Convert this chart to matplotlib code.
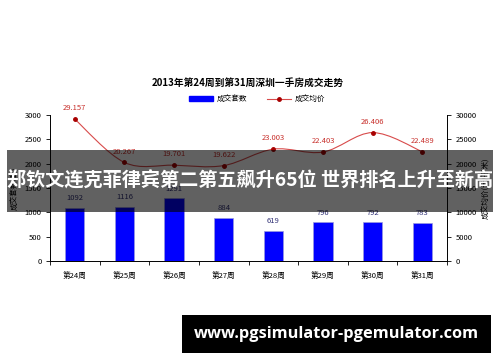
import numpy as np
import matplotlib
matplotlib.use("Agg")
import matplotlib.pyplot as plt
from matplotlib.path import Path
from matplotlib.patches import PathPatch, Rectangle, Patch
from matplotlib.lines import Line2D

plt.rcParams['font.family'] = ['Noto Sans CJK SC', 'DejaVu Sans']

# --- data ---
weeks = ["第24周", "第25周", "第26周", "第27周", "第28周", "第29周", "第30周", "第31周"]
units_sold = [1092, 1116, 1291, 884, 619, 796, 792, 783]
avg_price = [29157, 20267, 19701, 19622, 23003, 22403, 26406, 22489]

title = "2013年第24周到第31周深圳一手房成交走势"
banner = "郑钦文连克菲律宾第二第五飙升65位 世界排名上升至新高"
site = "www.pgsimulator-pgemulator.com"

BAR_BLUE = "#0000FF"
LINE_RED = "#D84B4B"
MARK_RED = "#A80000"

fig = plt.figure(figsize=(5, 3.62), dpi=100)
ax = fig.add_axes([0.1, 0.279, 0.794, 0.403])
ax2 = ax.twinx()

x = np.arange(len(weeks))

# bars (left axis)
ax.bar(x, units_sold, width=0.39, color=BAR_BLUE, edgecolor="#9999DD", linewidth=0.5, zorder=2)
for xi, v in zip(x, units_sold):
    ax.annotate(str(v), (xi, v), xytext=(0, 4), textcoords="offset points",
                ha="center", va="bottom", fontsize=5.5, color="#333377")

ax.set_xlim(-0.5, len(weeks) - 0.5)
ax.set_ylim(0, 3000)
ax.set_yticks(range(0, 3001, 500))
ax.set_xticks(x)
ax.set_xticklabels(weeks, fontsize=5.5)
ax.set_xticks(np.arange(-0.5, len(weeks), 1), minor=True)
ax.tick_params(axis="x", which="major", length=0, pad=8)
ax.tick_params(axis="x", which="minor", length=3, width=0.6, direction="out")
ax.tick_params(axis="y", labelsize=5.5, length=3, width=0.6, direction="out", pad=3)
ax.set_ylabel("成交套数(套)", fontsize=5.5, labelpad=4)

# smoothed price line (right axis), Catmull-Rom -> cubic Bezier through the points
pts = np.column_stack([x, avg_price]).astype(float)
ext = np.vstack([pts[0], pts, pts[-1]])
verts = [tuple(pts[0])]
codes = [Path.MOVETO]
for i in range(1, len(ext) - 2):
    p0, p1, p2, p3 = ext[i - 1], ext[i], ext[i + 1], ext[i + 2]
    verts += [tuple(p1 + (p2 - p0) / 6), tuple(p2 - (p3 - p1) / 6), tuple(p2)]
    codes += [Path.CURVE4] * 3
ax2.add_patch(PathPatch(Path(verts, codes), facecolor="none", edgecolor=LINE_RED, linewidth=0.8, zorder=3))
ax2.plot(x, avg_price, linestyle="none", marker="o", markersize=2.5, color=MARK_RED, zorder=4)
for xi, v in zip(x, avg_price):
    ax2.annotate(f"{v:,}".replace(",", "."), (xi, v), xytext=(0, 5), textcoords="offset points",
                 ha="center", va="bottom", fontsize=5.5, color="#C8302C")

ax2.set_ylim(0, 30000)
ax2.set_yticks(range(0, 30001, 5000))
ax2.tick_params(axis="y", labelsize=5.5, length=3, width=0.6, direction="out", pad=3)
ax2.set_ylabel("成交均价(元/平米)", fontsize=5.5, labelpad=4)

for a in (ax, ax2):
    a.spines["top"].set_visible(False)
    for s in ("left", "right", "bottom"):
        a.spines[s].set_linewidth(0.6)

fig.text(0.495, 0.771, title, ha="center", va="center", fontsize=7, fontweight="bold")

handles = [Patch(facecolor=BAR_BLUE, edgecolor=BAR_BLUE),
           Line2D([], [], color=LINE_RED, marker="o", markersize=2.5,
                  markerfacecolor=MARK_RED, markeredgecolor=MARK_RED, linewidth=0.8)]
fig.legend(handles, ["成交套数", "成交均价"], loc="center", bbox_to_anchor=(0.514, 0.726),
           ncol=2, frameon=False, fontsize=5.5, handlelength=3.2, handleheight=0.5,
           columnspacing=2.5, handletextpad=0.5)

# overlay banner
fig.add_artist(Rectangle((7 / 500, 1 - 212 / 362), 486 / 500, 62 / 362, transform=fig.transFigure,
                         facecolor="black", alpha=0.62, edgecolor="none", zorder=10))
fig.text(0.5, 1 - 181 / 362, banner, ha="center", va="center", fontsize=13.8,
         fontweight="bold", color="white", zorder=11)

# site label box
fig.add_artist(Rectangle((182 / 500, 1 - 353 / 362), 309 / 500, 38 / 362, transform=fig.transFigure,
                         facecolor="black", edgecolor="none", zorder=10))
fig.text(336 / 500, 1 - 334 / 362, site, ha="center", va="center", fontsize=11.8,
         fontweight="bold", color="white", family=["Open Sans", "DejaVu Sans"], zorder=11)

fig.savefig("out.png", dpi=100)
